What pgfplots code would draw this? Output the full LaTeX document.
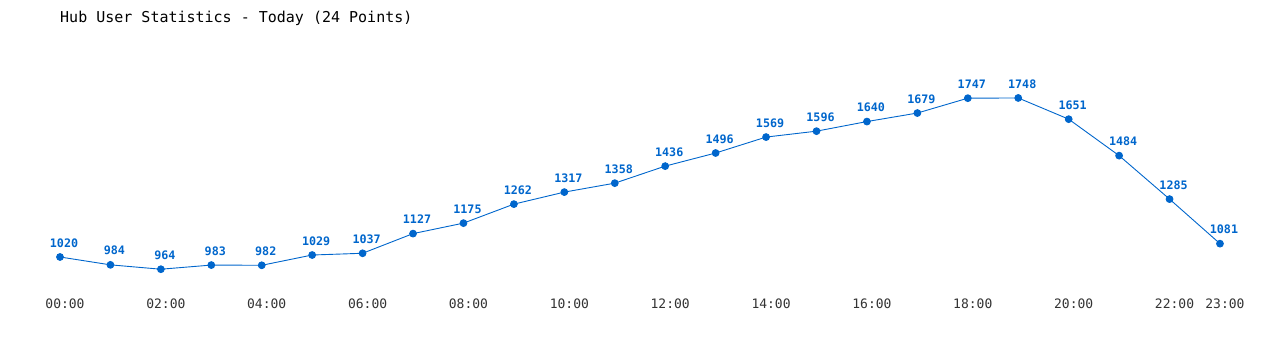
\documentclass[border=0pt]{standalone}
\usepackage{fontspec}
\setmainfont{DejaVu Sans Mono}
\setmonofont{DejaVu Sans Mono}
\usepackage{pgfplots}
\pgfplotsset{compat=1.18}
\definecolor{ptblue}{HTML}{0066CC}
\definecolor{ticktxt}{HTML}{333333}
\begin{document}
\begin{tikzpicture}[x=1pt,y=1pt]
\useasboundingbox (0,0) rectangle (1280,350);
\node[anchor=west,font=\fontsize{15}{18}\selectfont,text=black,inner sep=0pt] at (60,332) {Hub User Statistics - Today (24 Points)};
\begin{axis}[
  at={(60pt,66.8pt)}, anchor=south west,
  scale only axis, width=1160pt, height=196.6pt,
  xmin=0, xmax=23, ymin=900, ymax=1800,
  axis line style={draw=none},
  ytick=\empty,
  xtick={0,2,4,6,8,10,12,14,16,18,20,22,23},
  xticklabels={00:00,02:00,04:00,06:00,08:00,10:00,12:00,14:00,16:00,18:00,20:00,22:00,23:00},
  major tick length=0pt,
  xticklabel style={font=\fontsize{13}{15}\selectfont, text=ticktxt, yshift=-12pt, xshift=5pt},
  clip=false,
  nodes near coords,
  every node near coord/.append style={font=\fontsize{11.7}{14}\selectfont\bfseries, text=ptblue, yshift=6pt, xshift=4pt},
  /pgf/number format/assume math mode=true,
  /pgf/number format/.cd, 1000 sep={}, fixed,
]
\addplot[color=ptblue, line width=0.9pt, mark=*, mark size=3.4pt, mark options={fill=ptblue,draw=ptblue}] coordinates {
(0,1020) (1,984) (2,964) (3,983) (4,982) (5,1029) (6,1037) (7,1127) (8,1175) (9,1262) (10,1317) (11,1358) (12,1436) (13,1496) (14,1569) (15,1596) (16,1640) (17,1679) (18,1747) (19,1748) (20,1651) (21,1484) (22,1285) (23,1081)
};
\end{axis}
\end{tikzpicture}
\end{document}
